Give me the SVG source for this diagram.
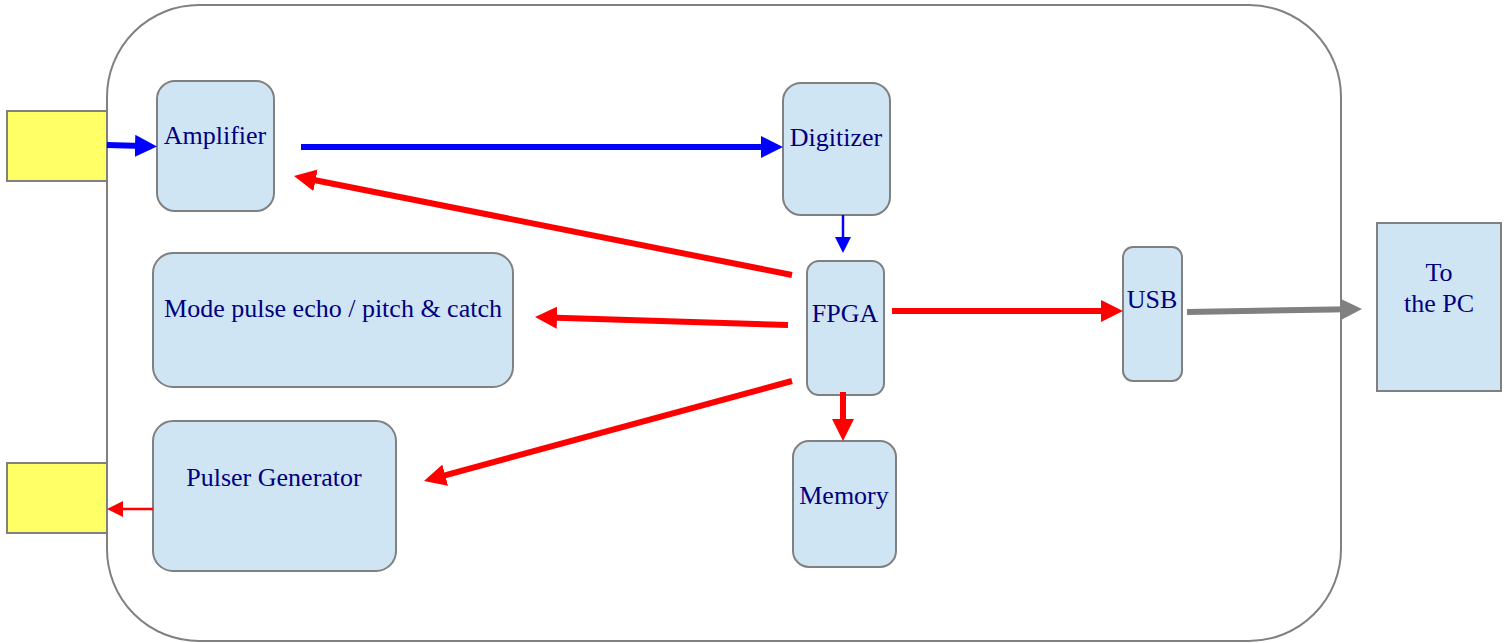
<svg xmlns="http://www.w3.org/2000/svg" width="1507" height="643" viewBox="0 0 1507 643">
  <style>
    .box { fill: #d0e5f3; stroke: #808080; stroke-width: 2; }
    .port { fill: #ffff66; stroke: #808080; stroke-width: 2; }
    .frame { fill: #ffffff; stroke: #808080; stroke-width: 2; }
    .lbl { font-family: "Liberation Serif", "Times New Roman", serif; font-size: 26px; fill: #000080; text-anchor: middle; }
    .blue { stroke: #0000ff; fill: none; }
    .red { stroke: #ff0000; fill: none; }
    .grey { stroke: #808080; fill: none; }
    .thick { stroke-width: 6; }
    .thin { stroke-width: 2.5; }
  </style>
  <defs>
    <marker id="headBlue" markerUnits="userSpaceOnUse" viewBox="0 0 22 22" markerWidth="22" markerHeight="22" refX="8" refY="11" orient="auto">
      <path d="M0,0 L22,11 L0,22 z" fill="#0000ff"/>
    </marker>
    <marker id="headRed" markerUnits="userSpaceOnUse" viewBox="0 0 22 22" markerWidth="22" markerHeight="22" refX="8" refY="11" orient="auto">
      <path d="M0,0 L22,11 L0,22 z" fill="#ff0000"/>
    </marker>
    <marker id="headGrey" markerUnits="userSpaceOnUse" viewBox="0 0 22 22" markerWidth="22" markerHeight="22" refX="8" refY="11" orient="auto">
      <path d="M0,0 L22,11 L0,22 z" fill="#808080"/>
    </marker>
    <marker id="smallBlue" markerUnits="userSpaceOnUse" viewBox="0 0 16 16" markerWidth="16" markerHeight="16" refX="5" refY="8" orient="auto">
      <path d="M0,0 L16,8 L0,16 z" fill="#0000ff"/>
    </marker>
    <marker id="smallRed" markerUnits="userSpaceOnUse" viewBox="0 0 16 16" markerWidth="16" markerHeight="16" refX="5" refY="8" orient="auto">
      <path d="M0,0 L16,8 L0,16 z" fill="#ff0000"/>
    </marker>
  </defs>

  <!-- enclosure -->
  <g id="enclosure">
    <rect class="frame" x="107" y="5" width="1234" height="636" rx="92" ry="92"/>
  </g>

  <!-- external probe connectors -->
  <g id="probe-in">
    <rect class="port" x="7" y="111" width="100" height="70"/>
  </g>
  <g id="probe-out">
    <rect class="port" x="7" y="463" width="100" height="70"/>
  </g>

  <g id="amplifier">
    <rect class="box" x="157" y="81" width="117" height="130" rx="18"/>
    <text class="lbl" x="215" y="144">Amplifier</text>
  </g>
  <g id="digitizer">
    <rect class="box" x="783" y="83" width="107" height="132" rx="18"/>
    <text class="lbl" x="836" y="146">Digitizer</text>
  </g>
  <g id="mode">
    <rect class="box" x="153" y="253" width="360" height="134" rx="20"/>
    <text class="lbl" x="333" y="317">Mode pulse echo / pitch &amp; catch</text>
  </g>
  <g id="pulser">
    <rect class="box" x="153" y="421" width="243" height="150" rx="20"/>
    <text class="lbl" x="274" y="486">Pulser Generator</text>
  </g>
  <g id="fpga">
    <rect class="box" x="807" y="261" width="77" height="134" rx="12"/>
    <text class="lbl" x="845" y="322">FPGA</text>
  </g>
  <g id="memory">
    <rect class="box" x="793" y="441" width="103" height="126" rx="16"/>
    <text class="lbl" x="844" y="504">Memory</text>
  </g>
  <g id="usb">
    <rect class="box" x="1123" y="247" width="59" height="134" rx="10"/>
    <text class="lbl" x="1152" y="308">USB</text>
  </g>
  <g id="pc">
    <rect class="box" x="1377" y="223" width="124" height="168"/>
    <text class="lbl" x="1439" y="281">To</text>
    <text class="lbl" x="1439" y="312">the PC</text>
  </g>

  <!-- signal paths -->
  <g id="connectors">
    <line class="blue thick" x1="107" y1="145" x2="143" y2="146" marker-end="url(#headBlue)"/>
    <line class="blue thick" x1="301" y1="147" x2="769" y2="147" marker-end="url(#headBlue)"/>
    <line class="blue thin" x1="843" y1="215" x2="843" y2="242" marker-end="url(#smallBlue)"/>
    <line class="red thick" x1="792" y1="275" x2="307.7" y2="178.7" marker-end="url(#headRed)"/>
    <line class="red thick" x1="788" y1="325" x2="549" y2="317.4" marker-end="url(#headRed)"/>
    <line class="red thick" x1="792" y1="381" x2="437.5" y2="477.3" marker-end="url(#headRed)"/>
    <line class="red thick" x1="892" y1="311" x2="1109" y2="311" marker-end="url(#headRed)"/>
    <line class="red thick" x1="843" y1="392" x2="843" y2="427" marker-end="url(#headRed)"/>
    <line class="red thin" x1="153" y1="509" x2="118" y2="509" marker-end="url(#smallRed)"/>
    <line class="grey thick" x1="1187" y1="312" x2="1348" y2="309.3" marker-end="url(#headGrey)"/>
  </g>
</svg>
